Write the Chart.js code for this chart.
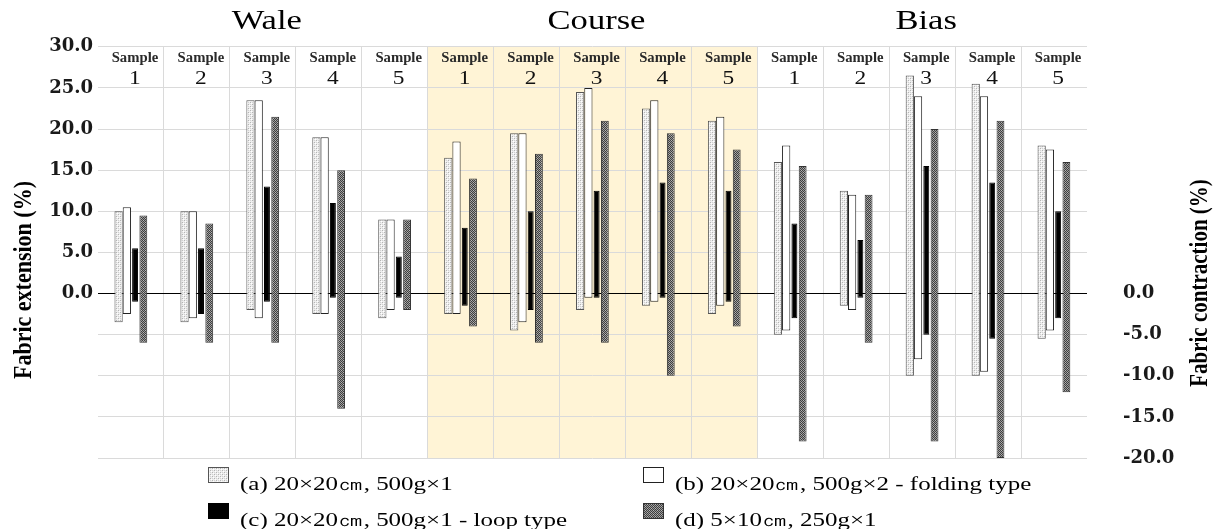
<!DOCTYPE html>
<html>
<head>
<meta charset="utf-8">
<script src="https://cdn.jsdelivr.net/npm/chart.js@4.4.1/dist/chart.umd.min.js"></script>
<style>
html,body{margin:0;padding:0;background:#fff;overflow:hidden}
#wrap{width:1219px;height:529px;position:relative}
canvas{display:block}
</style>
</head>
<body>
<div id="wrap"><canvas id="c" width="1219" height="529"></canvas></div>
<script>
// ---------------- DATA ----------------
const groups = ['Wale', 'Course', 'Bias'];
const categories = [
  'Wale 1','Wale 2','Wale 3','Wale 4','Wale 5',
  'Course 1','Course 2','Course 3','Course 4','Course 5',
  'Bias 1','Bias 2','Bias 3','Bias 4','Bias 5'
];
const sampleWord = 'Sample';
const sampleNumbers = ['1','2','3','4','5','1','2','3','4','5','1','2','3','4','5'];
const highlightGroup = 'Course';

const seriesLabels = [
  '(a) 20×20㎝, 500g×1',
  '(b) 20×20㎝, 500g×2 - folding type',
  '(c) 20×20㎝, 500g×1 - loop type',
  '(d) 5×10㎝, 250g×1'
];

// extension (top of bar) and contraction (bottom of bar), %
const aExt = [10.0, 10.0, 23.5, 19.0,  9.0,  16.5, 19.5, 24.5, 22.5, 21.0,  16.0, 12.5, 26.5, 25.5, 18.0];
const aCon = [-3.5, -3.5, -2.0, -2.5, -3.0,  -2.5, -4.5, -2.0, -1.5, -2.5,  -5.0, -1.5, -10.0, -10.0, -5.5];

const bExt = [10.5, 10.0, 23.5, 19.0,  9.0,  18.5, 19.5, 25.0, 23.5, 21.5,  18.0, 12.0, 24.0, 24.0, 17.5];
const bCon = [-2.5, -3.0, -3.0, -2.5, -2.0,  -2.5, -3.5, -0.5, -1.0, -1.5,  -4.5, -2.0, -8.0, -9.5, -4.5];

const cExt = [ 5.5,  5.5, 13.0, 11.0,  4.5,   8.0, 10.0, 12.5, 13.5, 12.5,   8.5,  6.5, 15.5, 13.5, 10.0];
const cCon = [-1.0, -2.5, -1.0, -0.5, -0.5,  -1.5, -2.0, -0.5, -0.5, -1.0,  -3.0, -0.5, -5.0, -5.5, -3.0];

const dExt = [ 9.5,  8.5, 21.5, 15.0,  9.0,  14.0, 17.0, 21.0, 19.5, 17.5,  15.5, 12.0, 20.0, 21.0, 16.0];
const dCon = [-6.0, -6.0, -6.0, -14.0, -2.0, -4.0, -6.0, -6.0, -10.0, -4.0, -18.0, -6.0, -18.0, -20.0, -12.0];

const yTickValues = [-20, -15, -10, -5, 0, 5, 10, 15, 20, 25, 30];
const yTicksLeft = [0, 5, 10, 15, 20, 25, 30];
const yTicksRight = [0, -5, -10, -15, -20];
const leftTitle = 'Fabric extension (%)';
const rightTitle = 'Fabric contraction (%)';

// ---------------- STYLE ----------------
const SERIF = '"Liberation Serif", "Times New Roman", serif';
const canvas = document.getElementById('c');
const ctx0 = canvas.getContext('2d');

function patternCanvas(bg, dots) {
  const c = document.createElement('canvas');
  c.width = 4; c.height = 4;
  const g = c.getContext('2d');
  g.fillStyle = bg; g.fillRect(0, 0, 4, 4);
  dots.forEach(([x, y, col]) => { g.fillStyle = col; g.fillRect(x, y, 1, 1); });
  return c;
}
const patA = ctx0.createPattern(patternCanvas('#eeeeee', [
  [0,0,'#b4b4b4'],[2,2,'#b4b4b4'],[2,0,'#d2d2d2'],[0,2,'#d2d2d2'],[1,1,'#ffffff'],[3,3,'#ffffff']
]), 'repeat');
const dDots = [];
for (let x = 0; x < 4; x++) for (let y = 0; y < 4; y++) if ((x + y) % 2 === 0) dDots.push([x, y, '#3e3e3e']);
dDots.push([1,2,'#b8b8b8'],[3,0,'#b8b8b8']);
const patD = ctx0.createPattern(patternCanvas('#9a9a9a', dDots), 'repeat');

const fills = [patA, '#ffffff', '#000000', patD];
const borders = ['#555555', '#222222', '#000000', '#333333'];
const barPcts = [1.0, 1.0, 0.72, 0.95];
const extArrays = [aExt, bExt, cExt, dExt];
const conArrays = [aCon, bCon, cCon, dCon];

const datasets = seriesLabels.map((lab, i) => ({
  label: lab,
  data: categories.map((_, k) => [conArrays[i][k], extArrays[i][k]]),
  backgroundColor: fills[i],
  borderColor: borders[i],
  borderWidth: 1,
  borderSkipped: false,
  barPercentage: barPcts[i],
  categoryPercentage: 0.5,
  yAxisID: 'y'
}));

function stretchedText(c, s, x, y, font, sx, align, color) {
  c.save();
  c.font = font;
  c.fillStyle = color || '#000';
  c.textAlign = align || 'center';
  c.textBaseline = 'alphabetic';
  c.translate(x, y);
  c.scale(sx, 1);
  c.fillText(s, 0, 0);
  c.restore();
}

const groupOf = categories.map(s => s.split(' ')[0]);

const decor = {
  id: 'decor',
  beforeDraw(chart) {
    const c = chart.ctx, xs = chart.scales.x, a = chart.chartArea;
    const idx = groupOf.map((g, i) => g === highlightGroup ? i : -1).filter(i => i >= 0);
    const first = idx[0], last = idx[idx.length - 1];
    const l = (xs.getPixelForValue(first - 1) + xs.getPixelForValue(first)) / 2;
    const r = (xs.getPixelForValue(last) + xs.getPixelForValue(last + 1)) / 2;
    c.save();
    c.fillStyle = '#fff4d6';
    c.fillRect(l, a.top, r - l, a.bottom - a.top);
    c.restore();
  },
  beforeDatasetsDraw(chart) {
    const c = chart.ctx, xs = chart.scales.x, a = chart.chartArea;
    categories.forEach((cat, i) => {
      const x = xs.getPixelForValue(i) + 4;
      stretchedText(c, sampleWord, x, a.top + 15.5, 'bold 14px ' + SERIF, 1.05, 'center', '#2a2a2a');
      stretchedText(c, sampleNumbers[i], x, a.top + 37, '18px ' + SERIF, 1.3, 'center', '#111');
    });
    groups.forEach(g => {
      const idx = groupOf.map((q, i) => q === g ? i : -1).filter(i => i >= 0);
      const mid = idx[Math.floor(idx.length / 2)];
      stretchedText(c, g, xs.getPixelForValue(mid) + 4, 29, '27px ' + SERIF, 1.28, 'center', '#000');
    });
  },
  afterDraw(chart) {
    const c = chart.ctx;
    // axis titles
    c.save();
    c.font = 'bold 22px ' + SERIF;
    c.fillStyle = '#000';
    c.textAlign = 'center';
    c.textBaseline = 'middle';
    c.translate(24, 280);
    c.rotate(-Math.PI / 2);
    c.scale(1, 1.15);
    c.fillText(leftTitle, 0, 0);
    c.restore();
    c.save();
    c.font = 'bold 21px ' + SERIF;
    c.fillStyle = '#000';
    c.textAlign = 'center';
    c.textBaseline = 'middle';
    c.translate(1201, 283);
    c.rotate(-Math.PI / 2);
    c.scale(1, 1.15);
    c.fillText(rightTitle, 0, 0);
    c.restore();
    // legend
    const colX = [208, 643], rowY = [467, 503];
    chart.data.datasets.forEach((ds, i) => {
      const bx = colX[i % 2], by = rowY[Math.floor(i / 2)];
      c.save();
      c.fillStyle = ds.backgroundColor;
      c.fillRect(bx, by, 21, 16);
      c.strokeStyle = ds.borderColor;
      c.lineWidth = 1;
      c.strokeRect(bx + 0.5, by + 0.5, 20, 15);
      c.restore();
      stretchedText(c, ds.label, bx + 32, by + 23, '18.5px ' + SERIF, 1.35, 'left', '#000');
    });
  }
};

new Chart(canvas, {
  type: 'bar',
  data: { labels: categories, datasets },
  options: {
    responsive: false,
    animation: false,
    devicePixelRatio: 1,
    layout: { padding: { top: 37, bottom: 71, left: 0, right: 0 } },
    plugins: { legend: { display: false }, tooltip: { enabled: false }, title: { display: false } },
    scales: {
      x: {
        offset: true,
        grid: {
          offset: true,
          drawTicks: false,
          color: (ctx) => (ctx.type === 'tick' && ctx.index > 0) ? '#dadada' : 'rgba(0,0,0,0)',
          lineWidth: 1
        },
        border: { display: false },
        ticks: { display: false },
        afterFit(s) { s.height = 0; }
      },
      y: {
        position: 'left',
        min: -20, max: 30,
        afterBuildTicks(s) { s.ticks = yTickValues.map(v => ({ value: v })); },
        ticks: {
          padding: 5,
          color: '#1a1a1a',
          font: { family: '"DejaVu Serif", serif', weight: 'bold', size: 18 },
          callback: (v) => yTicksLeft.includes(v) ? v.toFixed(1) : ''
        },
        grid: {
          drawTicks: false,
          color: (ctx) => (ctx.tick && ctx.tick.value === 0) ? '#000000' : '#dadada',
          lineWidth: 1
        },
        border: { display: false },
        title: { display: false },
        afterFit(s) { s.width = 98; }
      },
      y2: {
        position: 'right',
        min: -20, max: 30,
        afterBuildTicks(s) { s.ticks = yTickValues.map(v => ({ value: v })); },
        ticks: {
          padding: 36,
          color: '#1a1a1a',
          font: { family: '"DejaVu Serif", serif', weight: 'bold', size: 18 },
          callback: (v) => yTicksRight.includes(v) ? v.toFixed(1) : ''
        },
        grid: { drawOnChartArea: false, drawTicks: false },
        border: { display: false },
        afterFit(s) { s.width = 132; }
      }
    }
  },
  plugins: [decor]
});
</script>
</body>
</html>
